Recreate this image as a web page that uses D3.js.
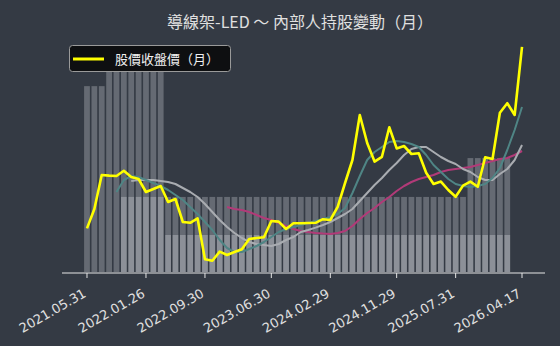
<!DOCTYPE html>
<html>
<head>
<meta charset="utf-8">
<script src="https://cdn.jsdelivr.net/npm/d3@7"></script>
<style>
  html, body { margin: 0; padding: 0; background: #343a44; }
  svg { display: block; }
</style>
</head>
<body>
<div id="chartArea"></div>
<script>

	// tick labels (dates shown under the axis)
	var tickLabels = ['2021.05.31', '2022.01.26', '2022.09.30', '2023.06.30', '2024.02.29', '2024.11.29', '2025.07.31', '2026.04.17'];

	// monthly close price
	var price = [
		20.9, 25.75, 34.25, 34.1, 34.0, 35.3, 33.75, 33.25, 30.0, 30.75,
		31.5, 27.5, 28.25, 22.5, 22.3, 23.4, 13.2, 12.8, 15.1, 14.25,
		15.0, 15.7, 18.25, 18.5, 18.7, 22.75, 22.6, 20.75, 22.2, 22.2,
		22.25, 22.3, 23.2, 23.0, 26.3, 32.25, 38.0, 49.25, 42.25, 37.6,
		38.8, 46.2, 40.9, 41.5, 39.5, 39.7, 34.8, 32.0, 32.6, 30.5,
		28.8, 31.6, 32.6, 31.3, 38.7, 38.25, 49.8, 52.2, 49.25, 66.3
	];

	// averages
	var maShort = [
		null, null, null, null, 30, 33, 34, 33.75, 33, 32.25,
		31.5, 30.5, 29.25, 28, 26.25, 24.5, 22.5, 20.5, 18, 16,
		15, 15, 15.75, 16.5, 17.5, 18.75, 20, 20.75, 21.25, 21.75,
		22.25, 22.75, 23.25, 23.75, 24.5, 26, 29.75, 34, 38, 40,
		41.25, 42.5, 42.75, 42.5, 42, 41.25, 39.25, 36.75, 35, 33.25,
		32, 31.5, 31.25, 31.5, 32, 33.5, 36, 40.5, 45.5, 51.25
	];
	var maMid = [
		null, null, null, null, null, null, 32.75, 33, 33, 33,
		32.75, 32.5, 32, 31, 30, 28.75, 27, 25, 23, 21.25,
		19.75, 18.5, 17.5, 17, 16.75, 16.5, 17, 18, 18.75, 20,
		20.5, 21.1, 21.75, 22.5, 23.5, 24.5, 25.75, 27.75, 29.75, 31.75,
		33.5, 35.5, 37.25, 39.25, 40.75, 41.25, 41.25, 40, 38.75, 37.75,
		37, 35.75, 35, 33.75, 33, 33, 34.5, 35.75, 38, 41.75
	];
	var maLong = [
		null, null, null, null, null, null, null, null, null, null,
		null, null, null, null, null, null, null, null, null, 26.25,
		25.75, 25.5, 25, 24.25, 23.5, 23, 22.25, 21.5, 20.75, 20.25,
		20, 19.75, 19.6, 19.5, 19.75, 20.25, 21.5, 23.25, 24.75, 26,
		27.5, 28.75, 30.25, 31.5, 32.5, 33.25, 33.75, 34.25, 35, 35.5,
		35.75, 36, 36.25, 36.75, 37.25, 37.75, 38.25, 38.5, 39.25, 40.25
	];

	// insider holdings (%) as background bars
	var holdA = [
		35.4, 35.4, 35.4, 38.5, 38.5, 38.5, 38.5, 38.5, 38.5, 38.5,
		38.5, 14.3, 14.3, 14.3, 14.3, 14.3, 14.3, 14.3, 14.3, 14.3,
		14.3, 14.3, 14.3, 14.3, 14.3, 14.3, 14.3, 14.3, 14.3, 14.3,
		14.3, 14.3, 14.3, 14.3, 14.3, 14.3, 14.3, 14.3, 14.3, 14.3,
		14.3, 14.3, 14.3, 14.3, 14.3, 14.3, 14.3, 14.3, 14.3, 14.3,
		14.3, 14.3, 21.7, 21.7, 21.7, 21.7, 21.7, 21.7
	];
	var holdB = [
		0, 0, 0, 0, 0, 14.3, 14.3, 14.3, 14.3, 14.3,
		14.3, 7.05, 7.05, 7.05, 7.05, 7.05, 7.05, 7.05, 7.05, 7.05,
		7.05, 7.05, 7.05, 7.05, 7.05, 7.05, 7.05, 7.05, 7.05, 7.05,
		7.05, 7.05, 7.05, 7.05, 7.05, 7.05, 7.05, 7.05, 7.05, 7.05,
		7.05, 7.05, 7.05, 7.05, 7.05, 7.05, 7.05, 7.05, 7.05, 7.05,
		7.05, 7.05, 7.05, 7.05, 7.05, 7.05, 7.05, 7.05
	];

	// month categories
	var fmt = d3.timeFormat('%Y.%m');
	var months = d3.timeMonth.range(new Date(2021, 4, 1), new Date(2026, 4, 1)).map(fmt);

	var width = 560, height = 346;

	var svg = d3.select('#chartArea').append('svg')
		.attr('width', width)
		.attr('height', height);

	var x = d3.scaleBand()
		.domain(months)
		.range([83.3, 525.7])
		.paddingInner(0.22)
		.paddingOuter(0.11);

	var cx = function (i) { return x(months[i]) + x.bandwidth() / 2; };

	var yPrice = d3.scaleLinear().domain([10, 70]).range([272, 32]);
	var yHold = d3.scaleLinear().domain([0, 40]).range([272, 62]);

	// bars
	function drawBars(data, fill, op) {
		svg.append('g').selectAll('rect')
			.data(data)
			.enter()
			.append('rect')
			.attr('x', function (d, i) { return x(months[i]); })
			.attr('y', function (d) { return yHold(d); })
			.attr('width', x.bandwidth())
			.attr('height', function (d) { return yHold(0) - yHold(d); })
			.attr('fill', fill)
			.attr('fill-opacity', op);
	}
	drawBars(holdA, '#a2a7ae', 0.45);
	drawBars(holdB, '#c8cbd0', 0.4);

	// lines
	function drawLine(data, color, w) {
		var line = d3.line()
			.defined(function (d) { return d != null; })
			.x(function (d, i) { return cx(i); })
			.y(function (d) { return yPrice(d); });
		svg.append('path')
			.datum(data)
			.attr('fill', 'none')
			.attr('stroke', color)
			.attr('stroke-width', w)
			.attr('stroke-linejoin', 'round')
			.attr('d', line);
	}
	drawLine(maLong, '#b23a78', 2);
	drawLine(maMid, '#a9acb1', 2);
	drawLine(maShort, '#4f8585', 2);
	drawLine(price, '#ffff00', 2.6);

	// x axis
	var tickMap = {};
	tickLabels.forEach(function (t) { tickMap[t.slice(0, 7)] = t; });

	svg.append('line')
		.attr('x1', 62).attr('x2', 545)
		.attr('y1', 273).attr('y2', 273)
		.attr('stroke', '#e6e6e6').attr('stroke-width', 1);

	var axis = svg.append('g')
		.attr('transform', 'translate(0,273)')
		.call(d3.axisBottom(x)
			.tickValues(tickLabels.map(function (t) { return t.slice(0, 7); }))
			.tickSize(5)
			.tickFormat(function (d) { return tickMap[d]; }));
	axis.select('.domain').remove();
	axis.selectAll('line').attr('stroke', '#e6e6e6');
	axis.selectAll('text')
		.attr('fill', '#e0e0e0')
		.attr('font-family', 'DejaVu Sans, sans-serif')
		.attr('font-size', 13)
		.attr('text-anchor', 'end')
		.attr('x', 0).attr('y', 0).attr('dy', null)
		.attr('transform', 'translate(0,23) rotate(-30)');

	// title
	svg.append('text')
		.attr('x', 300)
		.attr('y', 28)
		.attr('text-anchor', 'middle')
		.attr('fill', '#e0e0e0')
		.attr('font-family', 'Noto Sans CJK TC, sans-serif')
		.attr('font-size', 16)
		.text('導線架-LED ～ 內部人持股變動（月）');

	// legend
	var lg = svg.append('g');
	lg.append('rect')
		.attr('x', 69.5).attr('y', 45.5)
		.attr('width', 161).attr('height', 26)
		.attr('rx', 3)
		.attr('fill', '#0e0f11')
		.attr('stroke', '#9a9a9a');
	lg.append('line')
		.attr('x1', 73).attr('x2', 104)
		.attr('y1', 59).attr('y2', 59)
		.attr('stroke', '#ffff00').attr('stroke-width', 3);
	lg.append('text')
		.attr('x', 115).attr('y', 63.5)
		.attr('fill', '#f0f0f0')
		.attr('font-family', 'Noto Sans CJK TC, sans-serif')
		.attr('font-size', 13)
		.text('股價收盤價（月）');

</script>
</body>
</html>
